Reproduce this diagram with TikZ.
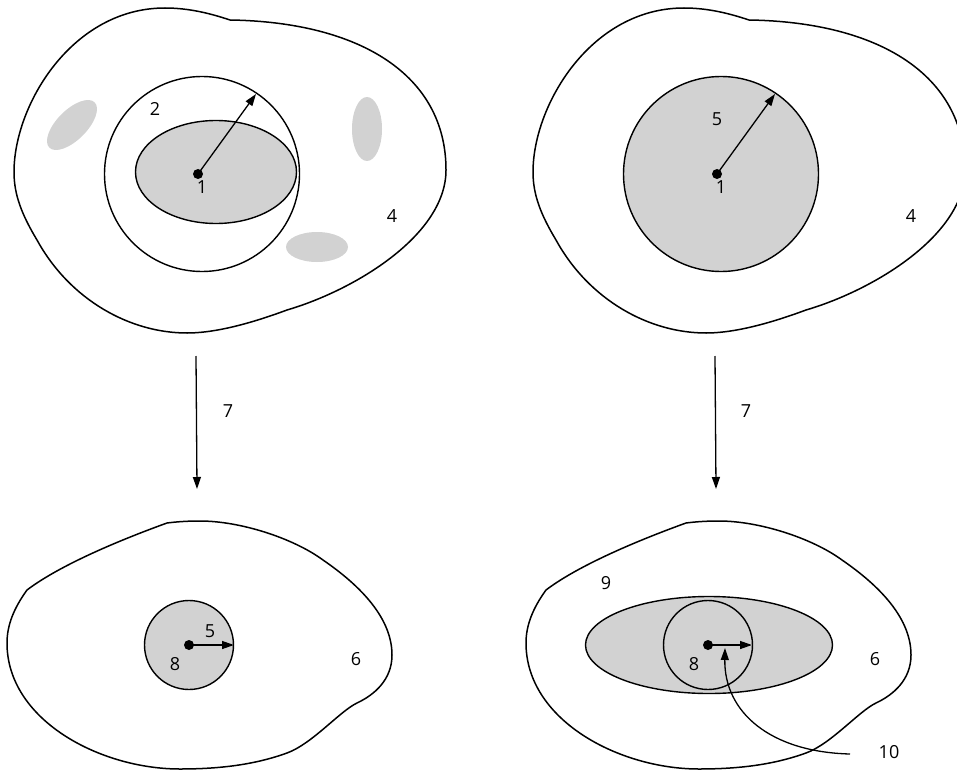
\documentclass[tikz,border=0pt]{standalone}
\usepackage{fontspec}
\setmainfont{Open Sans}
\usetikzlibrary{arrows.meta}
\definecolor{shade}{RGB}{210,210,210}
\begin{document}
\begin{tikzpicture}[x=1pt,y=-1pt,
  outline/.style={draw=black,line width=1.5pt,line join=round},
  blob/.style={fill=shade,draw=none},
  gshape/.style={fill=shade,draw=black,line width=1.4pt},
  ring/.style={draw=black,line width=1.4pt},
  arr/.style={-{Triangle[length=12pt,width=8pt]},line width=1.3pt},
  dot/.style={circle,fill=black,inner sep=0pt,minimum size=10pt},
  lbl/.style={font=\fontsize{18}{20}\selectfont,inner sep=0pt},
  topcell/.pic={
    \draw[outline] (230,20) .. controls (360,22) and (446,75) .. (446,170)
      .. controls (446,235) and (355,290) .. (287,310)
      .. controls (260,320) and (220,333) .. (187,333)
      .. controls (130,333) and (70,300) .. (37,240)
      .. controls (22,215) and (14,195) .. (14,172)
      .. controls (14,105) and (72,8) .. (165,8)
      .. controls (190,8) and (212,14) .. (230,20) -- cycle;
  },
  botcell/.pic={
    \draw[outline] (167,523) .. controls (120,540) and (60,565) .. (27,590)
      .. controls (14,608) and (7,625) .. (7,643)
      .. controls (7,720) and (100,769) .. (180,769)
      .. controls (230,769) and (262,762) .. (287,753)
      .. controls (312,744) and (340,711) .. (357,703)
      .. controls (374,695) and (392,680) .. (392,655)
      .. controls (392,615) and (355,582) .. (323,560)
      .. controls (293,538) and (240,521) .. (200,521)
      .. controls (185,521) and (175,522) .. (167,523) -- cycle;
  }
]
\clip (0,0) rectangle (957,770);
\fill[white] (0,0) rectangle (957,770);

% ---------- top left ----------
\pic at (0,0) {topcell};
\fill[blob, rotate around={45:(72,125)}] (72,125) ellipse [x radius=32, y radius=15];
\fill[blob] (367,129) ellipse [x radius=15, y radius=32];
\fill[blob] (317,247) ellipse [x radius=31, y radius=15];
\draw[gshape] (216,172) ellipse [x radius=80.5, y radius=51.5];
\draw[ring] (202,174) circle [radius=97.5];
\node[dot] (d1) at (198,174) {};
\coordinate (r1) at (256,94);
\draw[arr] (d1.center) -- (r1);
\node[lbl] (l2) at (155,109) {2};
\node[lbl] (l1a) at (202,187) {1};
\node[lbl] (l4a) at (392,216) {4};

% ---------- top right ----------
\pic at (519,0) {topcell};
\draw[gshape] (721,174) circle [radius=97.5];
\node[dot] (d2) at (717,174) {};
\coordinate (r2) at (775,94);
\draw[arr] (d2.center) -- (r2);
\node[lbl] (l5a) at (717,119) {5};
\node[lbl] (l1b) at (721,187) {1};
\node[lbl] (l4b) at (911,216) {4};

% ---------- vertical arrows ----------
\coordinate (a1s) at (196,356);
\coordinate (a1e) at (197,489);
\draw[arr] (a1s) -- (a1e);
\node[lbl] (l7a) at (228,411) {7};
\coordinate (a2s) at (715,356);
\coordinate (a2e) at (716,489);
\draw[arr] (a2s) -- (a2e);
\node[lbl] (l7b) at (746,411) {7};

% ---------- bottom left ----------
\pic at (0,0) {botcell};
\draw[gshape] (189,645) circle [radius=44.5];
\node[dot] (d3) at (189,645) {};
\coordinate (r3) at (234,645);
\draw[arr] (d3.center) -- (r3);
\node[lbl] (l5b) at (210,631) {5};
\node[lbl] (l8a) at (175,664) {8};
\node[lbl] (l6a) at (356,659) {6};

% ---------- bottom right ----------
\pic at (519,0) {botcell};
\draw[gshape] (709,645) ellipse [x radius=123.5, y radius=48.5];
\draw[ring] (708,645) circle [radius=44.5];
\node[dot] (d4) at (708,645) {};
\coordinate (r4) at (752,645);
\draw[arr] (d4.center) -- (r4);
\node[lbl] (l9) at (606,583) {9};
\node[lbl] (l8b) at (694,664) {8};
\node[lbl] (l6b) at (875,659) {6};
\node[lbl] (l10) at (889,752) {10};
\coordinate (c10) at (850,754);
\coordinate (c10e) at (725,648);
\draw[arr] (c10) .. controls (770,752) and (724,712) .. (c10e);
\end{tikzpicture}
\end{document}
